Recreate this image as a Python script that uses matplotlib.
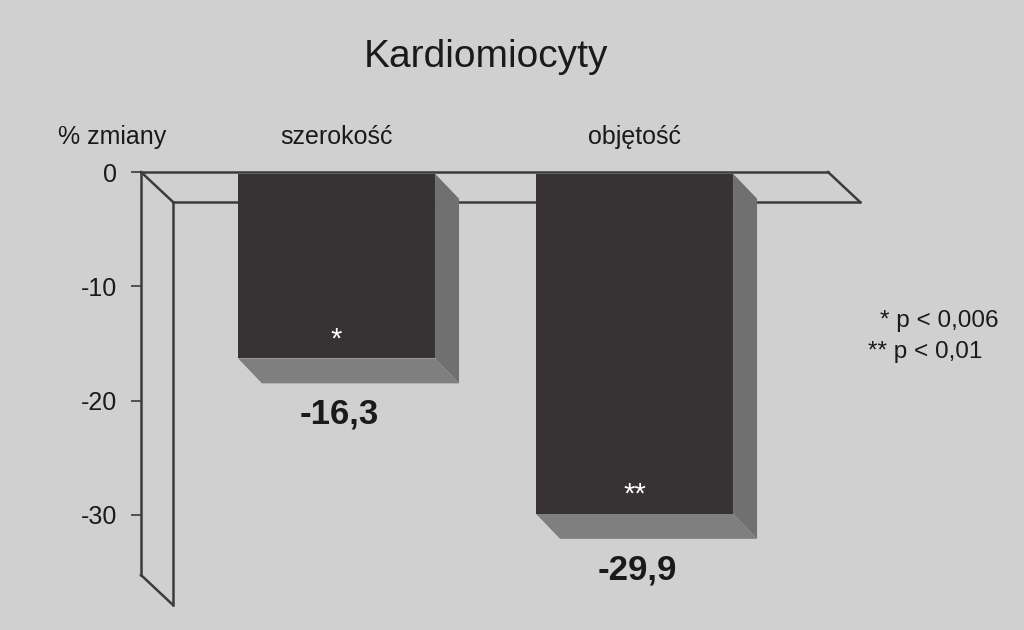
import matplotlib.pyplot as plt
from matplotlib.patches import Polygon
from matplotlib.transforms import offset_copy

plt.rcParams['font.family'] = ['Liberation Sans', 'DejaVu Sans']
plt.rcParams['axes.unicode_minus'] = False

# dane
kategorie = ['szerokość', 'objętość']
zmiany = [-16.3, -29.9]
etykiety = ['-16,3', '-29,9']
gwiazdki = ['*', '**']
yticks = [0, -10, -20, -30]
legenda = ['* p < 0,006', '** p < 0,01']

tlo = '#d0d0d0'
front = '#373334'
bok = '#707070'
spod = '#7f7f7f'
linia = '#3c3c3c'

fig = plt.figure(figsize=(10.24, 6.3), dpi=100, facecolor=tlo)
ax = fig.add_axes([141 / 1024, 1 - 575 / 630, (828 - 141) / 1024, (575 - 172) / 630])
ax.set_facecolor(tlo)
ax.patch.set_alpha(0)

x0, x1 = -0.656, 1.649
y0, y1 = -35.25, 0
ax.set_xlim(x0, x1)
ax.set_ylim(y0, y1)

# glebokosc 3D (w jednostkach danych)
wdx, wdy = 32 / 298, 30 / 11.43
bdx, bdy = 24 / 298, 25 / 11.43
szer = 0.661

# sciana i podloga
kw = dict(color=linia, lw=1.8, clip_on=False, zorder=1)
ax.plot([x0 + wdx, x1 + wdx], [y1 - wdy, y1 - wdy], **kw)
ax.plot([x0 + wdx, x0 + wdx], [y1 - wdy, y0 - wdy], **kw)
ax.plot([x0, x0 + wdx], [y1, y1 - wdy], **kw)
ax.plot([x0, x0 + wdx], [y0, y0 - wdy], **kw)
ax.plot([x1, x1 + wdx], [y1, y1 - wdy], **kw)
ax.plot([x0, x1], [y1, y1], **kw)
ax.plot([x0, x0], [y1, y0], **kw)

xs = range(len(zmiany))
ax.bar(xs, [v + 0.15 for v in zmiany], bottom=-0.15, width=szer, color=front, zorder=3)
for i, v in zip(xs, zmiany):
    l, r = i - szer / 2, i + szer / 2
    ax.add_patch(Polygon([(r, -0.15), (r + bdx, -0.15 - bdy), (r + bdx, v - bdy), (r, v)],
                         closed=True, facecolor=bok, edgecolor='none', zorder=2))
    ax.add_patch(Polygon([(l, v), (r, v), (r + bdx, v - bdy), (l + bdx, v - bdy)],
                         closed=True, facecolor=spod, edgecolor='none', zorder=2))

# napisy
tr_up = offset_copy(ax.transData, fig=fig, x=0, y=35, units='dots')
for i, k in zip(xs, kategorie):
    ax.text(i, 0, k, transform=tr_up, ha='center', va='center', fontsize=18, color='#1a1a1a')
ax.text(x0 - 29 / 298, 0, '% zmiany', transform=tr_up, ha='center', va='center',
        fontsize=18, color='#1a1a1a')

tr_lab = offset_copy(ax.transData, fig=fig, x=3, y=-56, units='dots')
tr_ast = offset_copy(ax.transData, fig=fig, x=0, y=19, units='dots')
for i, v, e, g in zip(xs, zmiany, etykiety, gwiazdki):
    ax.text(i, v, e, transform=tr_lab, ha='center', va='center', fontsize=25,
            fontweight='bold', color='#1a1a1a')
    ax.text(i, v, g, transform=tr_ast, ha='center', va='center', fontsize=21, color='white')

fig.text(880 / 1024, 1 - 321 / 630, legenda[0], ha='left', va='center', fontsize=17.5, color='#1a1a1a')
fig.text(868 / 1024, 1 - 352 / 630, legenda[1], ha='left', va='center', fontsize=17.5, color='#1a1a1a')

fig.text(486 / 1024, 1 - 57 / 630, 'Kardiomiocyty', ha='center', va='center', fontsize=28,
         color='#1a1a1a')

for s in ax.spines.values():
    s.set_visible(False)
ax.set_xticks([])
ax.set_yticks(yticks)
ax.set_yticklabels([str(t) for t in yticks])
ax.tick_params(axis='y', length=7.2, width=1.2, color=linia, pad=10, labelsize=18,
               labelcolor='#1a1a1a')

fig.savefig('out.png', dpi=100, facecolor=tlo)
